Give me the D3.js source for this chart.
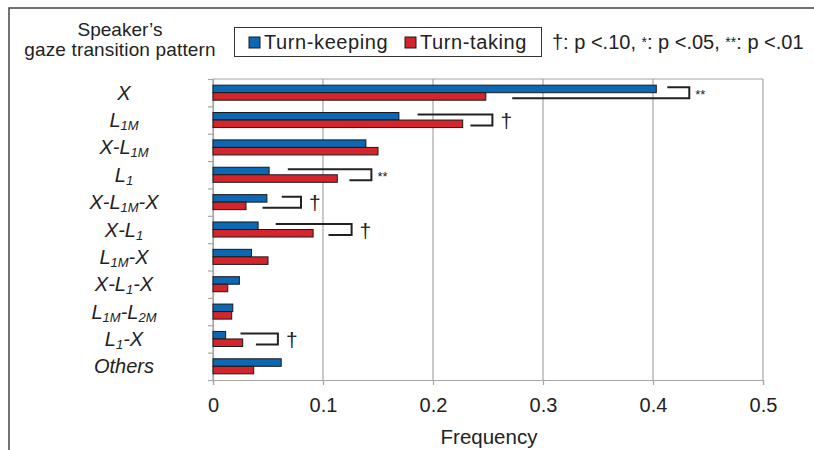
<!DOCTYPE html>
<html>
<head>
<meta charset="utf-8">
<script src="https://cdn.jsdelivr.net/npm/d3@7"></script>
<style>
  body { margin: 0; background: #fff; }
  svg { display: block; font-family: "Liberation Sans", Arial, sans-serif; }
</style>
</head>
<body>
<div id="chart"></div>
<script>
// categories, _{..} marks a subscript
const categories = ['X', 'L_{1M}', 'X-L_{1M}', 'L_{1}', 'X-L_{1M}-X', 'X-L_{1}',
  'L_{1M}-X', 'X-L_{1}-X', 'L_{1M}-L_{2M}', 'L_{1}-X', 'Others'];
const seriesNames = ['Turn-keeping', 'Turn-taking'];
const turnKeeping = [0.403, 0.169, 0.139, 0.051, 0.049, 0.041, 0.035, 0.024, 0.018, 0.0115, 0.062];
const turnTaking = [0.248, 0.227, 0.150, 0.113, 0.030, 0.091, 0.050, 0.0134, 0.017, 0.027, 0.037];
const xTicks = [0, 0.1, 0.2, 0.3, 0.4, 0.5];

// significance brackets (frequency units)
const bracketCats = ['X', 'L_{1M}', 'L_{1}', 'X-L_{1M}-X', 'X-L_{1}', 'L_{1}-X'];
const bracketMarks = ['**', '†', '**', '†', '†', '†'];
const bracketTop = [0.413, 0.186, 0.068, 0.0625, 0.057, 0.025];
const bracketBottom = [0.272, 0.234, 0.124, 0.045, 0.105, 0.039];
const bracketRight = [0.433, 0.254, 0.144, 0.080, 0.126, 0.059];

const colors = ['#0a68b5', '#d4252d'];
const width = 814;
const height = 450;
const plot = { left: 213, right: 763, top: 79, bottom: 380 };
const fontSize = 20;

const svg = d3.select('#chart')
  .append('svg')
  .attr('width', width)
  .attr('height', height);

// outer frame (top and left edges visible)
svg.append('path')
  .attr('d', `M9,${height} V8 H${width}`)
  .attr('fill', 'none')
  .attr('stroke', '#444')
  .attr('stroke-width', 1.5);

const xScale = d3.scaleLinear().domain([0, 0.5]).range([plot.left, plot.right]);
const yScale = d3.scaleBand()
  .domain(categories)
  .range([plot.top, plot.bottom])
  .paddingInner(0.45)
  .paddingOuter(0.225);
const ySub = d3.scaleBand().domain([0, 1]).range([0, yScale.bandwidth()]);

// gridlines
svg.append('g')
  .attr('class', 'gridlines')
  .selectAll('line')
  .data(xTicks)
  .join('line')
  .attr('x1', d => xScale(d))
  .attr('x2', d => xScale(d))
  .attr('y1', plot.top)
  .attr('y2', plot.bottom)
  .attr('stroke', '#a6a6a6')
  .attr('stroke-width', 1.2);

svg.append('line')
  .attr('x1', plot.left).attr('x2', plot.right)
  .attr('y1', plot.top).attr('y2', plot.top)
  .attr('stroke', '#a6a6a6')
  .attr('stroke-width', 1.2);

// x axis
const xAxis = svg.append('g')
  .attr('transform', `translate(0, ${plot.bottom})`)
  .call(d3.axisBottom(xScale).tickValues(xTicks).tickSize(5).tickPadding(13).tickFormat(d => String(d)));
xAxis.select('.domain').attr('stroke', '#a6a6a6').attr('stroke-width', 1.2);
xAxis.selectAll('.tick line').attr('stroke', '#a6a6a6').attr('stroke-width', 1.2);
xAxis.selectAll('.tick text')
  .attr('font-size', fontSize)
  .attr('fill', '#222')
  .style('font-family', '"Liberation Sans", Arial, sans-serif');

// y axis: ticks at band boundaries
const yEdges = d3.scaleLinear().domain([0, categories.length]).range([plot.top, plot.bottom]);
const yAxis = svg.append('g')
  .attr('transform', `translate(${plot.left}, 0)`)
  .call(d3.axisLeft(yEdges).tickValues(d3.range(categories.length + 1)).tickSize(5).tickFormat(''));
yAxis.select('.domain').attr('stroke', '#a6a6a6').attr('stroke-width', 1.2);
yAxis.selectAll('.tick line').attr('stroke', '#a6a6a6').attr('stroke-width', 1.2);

// category labels with subscripts
const labels = svg.append('g')
  .selectAll('text')
  .data(categories)
  .join('text')
  .attr('x', 124)
  .attr('y', d => yScale(d) + yScale.bandwidth() / 2 + 7)
  .attr('text-anchor', 'middle')
  .attr('font-size', fontSize)
  .attr('font-style', 'italic')
  .attr('fill', '#222');

labels.each(function (d) {
  const t = d3.select(this);
  const parts = d.split(/_\{(.*?)\}/);
  parts.forEach((p, i) => {
    if (p === '') return;
    if (i % 2 === 1) {
      t.append('tspan').attr('font-size', 13).attr('dy', 3).text(p);
    } else {
      t.append('tspan').attr('dy', i > 0 ? -3 : 0).text(p);
    }
  });
});

// bars
const rows = categories.map((c, i) => ({ cat: c, values: [turnKeeping[i], turnTaking[i]] }));
svg.append('g')
  .selectAll('g')
  .data(rows)
  .join('g')
  .attr('transform', d => `translate(0, ${yScale(d.cat)})`)
  .selectAll('rect')
  .data(d => d.values.map((v, k) => ({ v, k })))
  .join('rect')
  .attr('x', xScale(0))
  .attr('y', d => ySub(d.k))
  .attr('width', d => xScale(d.v) - xScale(0))
  .attr('height', ySub.bandwidth())
  .attr('fill', d => colors[d.k])
  .attr('stroke', '#1a1a1a')
  .attr('stroke-width', 1);

// significance brackets
const brackets = bracketCats.map((c, i) => ({
  cat: c, mark: bracketMarks[i], top: bracketTop[i], bottom: bracketBottom[i], right: bracketRight[i]
}));
const bg = svg.append('g').selectAll('g').data(brackets).join('g');
bg.append('path')
  .attr('d', d => {
    const cy = yScale(d.cat) + yScale.bandwidth() / 2;
    return `M${xScale(d.top)},${cy - 5.5} H${xScale(d.right)} V${cy + 5.5} H${xScale(d.bottom)}`;
  })
  .attr('fill', 'none')
  .attr('stroke', '#222')
  .attr('stroke-width', 2);
bg.append('text')
  .attr('x', d => xScale(d.right) + (d.mark === '**' ? 6 : 8))
  .attr('y', d => yScale(d.cat) + yScale.bandwidth() / 2 + (d.mark === '**' ? 6 : 8))
  .attr('font-size', d => d.mark === '**' ? 13 : 21)
  .attr('fill', '#222')
  .text(d => d.mark);

// header
svg.append('text')
  .attr('x', 120).attr('y', 36)
  .attr('text-anchor', 'middle')
  .attr('font-size', 19)
  .attr('fill', '#222')
  .text('Speaker\u2019s');
svg.append('text')
  .attr('x', 120).attr('y', 56)
  .attr('text-anchor', 'middle')
  .attr('font-size', 19)
  .attr('letter-spacing', 0.15)
  .attr('fill', '#222')
  .text('gaze transition pattern');

// legend
const legend = svg.append('g');
legend.append('rect')
  .attr('x', 234.5).attr('y', 27.5)
  .attr('width', 307).attr('height', 29)
  .attr('fill', 'none')
  .attr('stroke', '#333')
  .attr('stroke-width', 1);
const legendX = [249, 405];
seriesNames.forEach((name, k) => {
  legend.append('rect')
    .attr('x', legendX[k]).attr('y', 37)
    .attr('width', 11).attr('height', 11)
    .attr('fill', colors[k])
    .attr('stroke', '#1a1a1a');
  legend.append('text')
    .attr('x', legendX[k] + 15).attr('y', 48.5)
    .attr('font-size', fontSize)
    .attr('letter-spacing', 0.6)
    .attr('fill', '#222')
    .text(name);
});

// significance legend
const sig = svg.append('text')
  .attr('x', 552).attr('y', 48.5)
  .attr('font-size', fontSize)
  .attr('fill', '#222');
sig.append('tspan').text('†: p <.10, ');
sig.append('tspan').attr('font-size', 14).attr('dy', -2).text('*');
sig.append('tspan').attr('dy', 2).text(': p <.05, ');
sig.append('tspan').attr('font-size', 14).attr('dy', -2).text('**');
sig.append('tspan').attr('dy', 2).text(': p <.01');

// x axis title
svg.append('text')
  .attr('x', 489).attr('y', 444)
  .attr('text-anchor', 'middle')
  .attr('font-size', 20.5)
  .attr('fill', '#222')
  .text('Frequency');
</script>
</body>
</html>
